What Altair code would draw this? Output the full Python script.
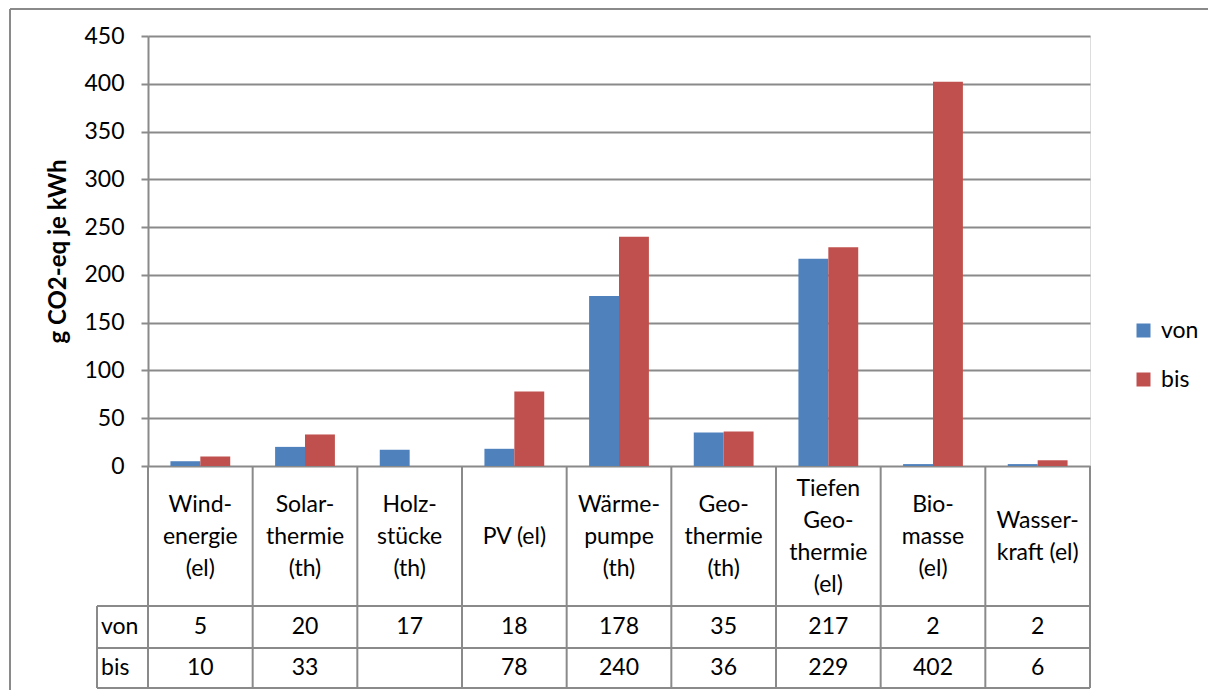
import altair as alt
import pandas as pd

# ---- data ----
categories = ["Wind-\nenergie\n(el)", "Solar-\nthermie\n(th)", "Holz-\nstücke\n(th)",
              "PV (el)", "Wärme-\npumpe\n(th)", "Geo-\nthermie\n(th)",
              "Tiefen\nGeo-\nthermie\n(el)", "Bio-\nmasse\n(el)", "Wasser-\nkraft (el)"]
von = [5, 20, 17, 18, 178, 35, 217, 2, 2]
bis = [10, 33, None, 78, 240, 36, 229, 402, 6]
series = ["von", "bis"]
colors = ["#4F81BD", "#C0504D"]
y_ticks = [0, 50, 100, 150, 200, 250, 300, 350, 400, 450]
y_title = "g CO2-eq je kWh"

rows = []
for c, v, b in zip(categories, von, bis):
    rows.append({"cat": c, "series": "von", "value": v})
    rows.append({"cat": c, "series": "bis", "value": b})
long_df = pd.DataFrame(rows)
cat_df = pd.DataFrame({"cat": categories})
cat_df["nl"] = [c.count("\n") + 1 for c in categories]
ser_df = pd.DataFrame({"series": series})
one_df = pd.DataFrame({"a": [0]})

# ---- style ----
FONT = "Lato"
FS = 23
GRID = "#8a8a8a"
LW = 2
W, H = 942, 430
ROW_TOP, ROW_MID, ROW_BOT = 570, 612, 652
LEFT_COL = -51
LABEL_MID, LINE_H = 501, 32

xscale = alt.Scale(domain=categories, paddingInner=0, paddingOuter=0)

bars = alt.Chart(long_df).mark_bar().encode(
    x=alt.X("cat:N", scale=xscale, sort=categories,
            axis=alt.Axis(labels=False, ticks=False, title=None, domainColor=GRID,
                          domainWidth=LW, grid=False)),
    xOffset=alt.XOffset("series:N", sort=series,
                        scale=alt.Scale(domain=series, paddingInner=0, paddingOuter=0.75)),
    y=alt.Y("value:Q", scale=alt.Scale(domain=[0, 450], nice=False),
            axis=alt.Axis(values=y_ticks, title=y_title, grid=True, gridColor=GRID,
                          gridWidth=LW, domainColor=GRID, domainWidth=LW, tickColor=GRID,
                          tickWidth=LW, tickSize=7, labelPadding=17, labelFontSize=FS,
                          labelFont=FONT, labelColor="#000", titleFont=FONT,
                          titleFontSize=24, titleFontWeight="bold", titleColor="#000",
                          titlePadding=13)),
    color=alt.Color("series:N", sort=series,
                    scale=alt.Scale(domain=series, range=colors),
                    legend=alt.Legend(title=None, orient="none", legendX=984, legendY=283,
                                      symbolType="square", symbolSize=196,
                                      symbolStrokeWidth=0, labelFont=FONT,
                                      labelFontSize=FS, labelColor="#000",
                                      rowPadding=25, labelOffset=6)),
)

cat_label_layers = []
for n in sorted(set(cat_df["nl"])):
    cat_label_layers.append(alt.Chart(cat_df).transform_filter(
        alt.datum.nl == int(n)
    ).mark_text(
        font=FONT, fontSize=FS, lineBreak="\n", lineHeight=LINE_H, baseline="middle",
        align="center", color="#000"
    ).encode(
        x=alt.X("cat:N", scale=xscale, sort=categories, axis=None),
        y=alt.value(LABEL_MID - (int(n) - 1) * LINE_H / 2),
        text="cat:N",
    ))

vlines = alt.Chart(cat_df).mark_rule(color=GRID, strokeWidth=LW).encode(
    x=alt.X("cat:N", scale=xscale, sort=categories, axis=None, bandPosition=0),
    y=alt.value(H), y2=alt.value(ROW_BOT),
)
vline_end = alt.Chart(cat_df).transform_filter(
    alt.datum.cat == categories[-1]
).mark_rule(color=GRID, strokeWidth=LW).encode(
    x=alt.X("cat:N", scale=xscale, sort=categories, axis=None, bandPosition=1),
    y=alt.value(H), y2=alt.value(ROW_BOT),
)

hlines = []
for yy in [ROW_TOP, ROW_MID, ROW_BOT]:
    hlines.append(alt.Chart(one_df).mark_rule(color=GRID, strokeWidth=LW).encode(
        x=alt.value(LEFT_COL), x2=alt.value(W), y=alt.value(yy)))
left_col_line = alt.Chart(one_df).mark_rule(color=GRID, strokeWidth=LW).encode(
    x=alt.value(LEFT_COL), y=alt.value(ROW_TOP), y2=alt.value(ROW_BOT))

row_y = {"von": (ROW_TOP + ROW_MID) / 2, "bis": (ROW_MID + ROW_BOT) / 2}
value_texts = []
row_labels = []
for s in series:
    value_texts.append(alt.Chart(long_df).transform_filter(
        (alt.datum.series == s) & alt.expr.isValid(alt.datum.value)
    ).mark_text(font=FONT, fontSize=FS, baseline="middle", align="center", color="#000").encode(
        x=alt.X("cat:N", scale=xscale, sort=categories, axis=None),
        y=alt.value(row_y[s]),
        text=alt.Text("value:Q", format="d"),
    ))
    row_labels.append(alt.Chart(ser_df).transform_filter(
        alt.datum.series == s
    ).mark_text(font=FONT, fontSize=FS, baseline="middle", align="left", color="#000").encode(
        x=alt.value(LEFT_COL + 4), y=alt.value(row_y[s]), text="series:N"))

frame_left = alt.Chart(one_df).mark_rule(color=GRID, strokeWidth=LW).encode(
    x=alt.value(-138), y=alt.value(-27), y2=alt.value(660))
frame_top = alt.Chart(one_df).mark_rule(color=GRID, strokeWidth=LW).encode(
    x=alt.value(-138), x2=alt.value(1070), y=alt.value(-27))

chart = alt.layer(
    bars, *cat_label_layers, vlines, vline_end, *hlines, left_col_line,
    *value_texts, *row_labels, frame_left, frame_top
).properties(
    width=W, height=H,
    autosize=alt.AutoSizeParams(type="none"),
    padding={"left": 140, "top": 28, "right": 118, "bottom": 224},
).configure_view(stroke=None).configure(font=FONT)

chart.save("out.html", embed_options={"renderer": "svg", "actions": False})
